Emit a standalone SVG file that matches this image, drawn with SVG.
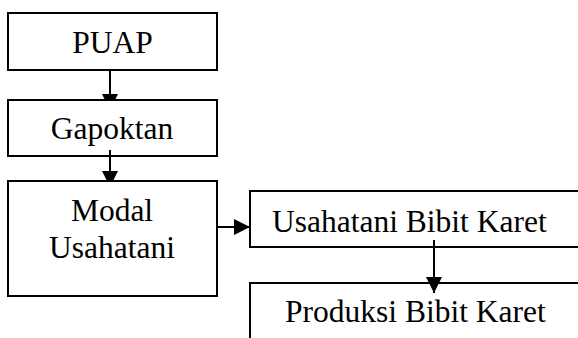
<svg xmlns="http://www.w3.org/2000/svg" width="578" height="338" viewBox="0 0 578 338">
  <style>
    .box { fill: #fff; stroke: #000; stroke-width: 2; }
    .lbl { font-family: "Liberation Serif", "Times New Roman", serif; font-size: 31.5px; fill: #000; }
    .mid { text-anchor: middle; }
    .conn { fill: none; stroke: #000; stroke-width: 2; marker-end: url(#arrow); }
  </style>
  <defs>
    <marker id="arrow" markerUnits="userSpaceOnUse" markerWidth="16" markerHeight="16" refX="16" refY="8" orient="auto">
      <path d="M0,0 L16,8 L0,16 z" fill="#000"/>
    </marker>
    <clipPath id="clip1"><rect x="0" y="0" width="578" height="100"/></clipPath>
    <clipPath id="clip2"><rect x="0" y="0" width="578" height="181"/></clipPath>
  </defs>
  <rect width="578" height="338" fill="#fff"/>

  <g id="puap">
    <rect class="box" x="8" y="13" width="209" height="57"/>
    <text class="lbl mid" x="112.5" y="53">PUAP</text>
  </g>
  <g id="gapoktan">
    <rect class="box" x="8" y="100" width="209" height="56"/>
    <text class="lbl mid" x="112" y="139">Gapoktan</text>
  </g>
  <g id="modal">
    <rect class="box" x="8" y="181" width="209" height="115"/>
    <text class="lbl mid" x="112" y="221">Modal</text>
    <text class="lbl mid" x="112" y="258">Usahatani</text>
  </g>
  <g id="usahatani">
    <rect class="box" x="250" y="191" width="340" height="56"/>
    <text class="lbl" x="272" y="232">Usahatani Bibit Karet</text>
  </g>
  <g id="produksi">
    <rect class="box" x="250" y="283" width="340" height="70"/>
    <text class="lbl" x="285" y="322">Produksi Bibit Karet</text>
  </g>

  <g id="connectors">
    <path class="conn" d="M110,70 L110,110" clip-path="url(#clip1)"/>
    <path class="conn" d="M110,150 L110,187" clip-path="url(#clip2)"/>
    <path class="conn" d="M217,227 L250,227"/>
    <path class="conn" d="M434,240 L434,293"/>
  </g>
</svg>
